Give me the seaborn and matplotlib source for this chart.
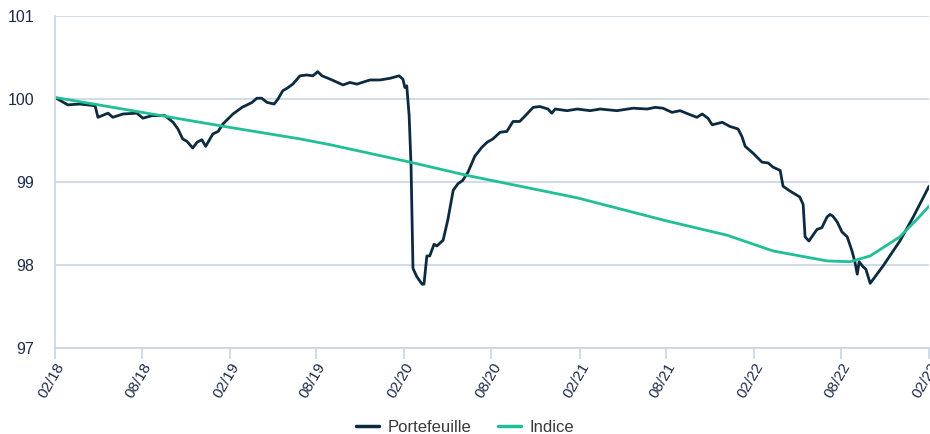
import pandas as pd
import seaborn as sns
import matplotlib.pyplot as plt
import matplotlib.dates as mdates

# Values
ptf_dates = ['2018-02-01', '2018-02-28', '2018-03-25', '2018-04-26', '2018-05-02', '2018-05-23',
             '2018-06-02', '2018-06-23', '2018-07-22', '2018-08-04', '2018-08-23', '2018-09-19',
             '2018-10-06', '2018-10-16', '2018-10-26', '2018-11-04', '2018-11-16', '2018-11-25',
             '2018-12-05', '2018-12-13', '2018-12-28', '2019-01-08', '2019-01-18', '2019-02-08',
             '2019-02-27', '2019-03-20', '2019-03-30', '2019-04-09', '2019-04-20', '2019-05-05',
             '2019-05-13', '2019-05-23', '2019-06-01', '2019-06-13', '2019-06-28', '2019-07-12',
             '2019-07-25', '2019-08-04', '2019-08-13', '2019-08-30', '2019-09-26', '2019-10-10',
             '2019-10-25', '2019-11-21', '2019-12-12', '2020-01-02', '2020-01-21', '2020-01-29',
             '2020-02-02', '2020-02-06', '2020-02-11', '2020-02-15', '2020-02-19', '2020-02-27',
             '2020-03-09', '2020-03-13', '2020-03-19', '2020-03-25', '2020-04-03', '2020-04-09',
             '2020-04-22', '2020-05-02', '2020-05-13', '2020-05-23', '2020-06-02', '2020-06-13',
             '2020-06-27', '2020-07-12', '2020-07-23', '2020-08-04', '2020-08-19', '2020-09-02',
             '2020-09-15', '2020-09-29', '2020-10-14', '2020-10-27', '2020-11-10', '2020-11-27',
             '2020-12-05', '2020-12-12', '2021-01-06', '2021-01-27', '2021-02-23', '2021-03-16',
             '2021-04-20', '2021-05-24', '2021-06-22', '2021-07-09', '2021-07-25', '2021-08-13',
             '2021-08-30', '2021-09-16', '2021-10-04', '2021-10-15', '2021-10-27', '2021-11-05',
             '2021-11-26', '2021-12-12', '2021-12-29', '2022-01-06', '2022-01-13', '2022-01-29',
             '2022-02-17', '2022-03-02', '2022-03-12', '2022-03-27', '2022-04-02', '2022-04-17',
             '2022-05-07', '2022-05-14', '2022-05-18', '2022-05-26', '2022-06-12', '2022-06-22',
             '2022-07-03', '2022-07-09', '2022-07-15', '2022-07-24', '2022-08-03', '2022-08-14',
             '2022-08-24', '2022-08-30', '2022-09-04', '2022-09-08', '2022-09-16', '2022-09-22',
             '2022-10-01', '2022-10-28', '2022-12-02', '2022-12-30', '2023-02-01']
ptf_values = [100.02, 99.93, 99.94, 99.92, 99.78, 99.83,
              99.78, 99.82, 99.83, 99.77, 99.80, 99.80,
              99.72, 99.64, 99.52, 99.49, 99.41, 99.48,
              99.51, 99.43, 99.58, 99.61, 99.70, 99.82,
              99.90, 99.96, 100.01, 100.01, 99.96, 99.94,
              100.00, 100.10, 100.13, 100.18, 100.28, 100.29,
              100.28, 100.33, 100.28, 100.24, 100.17, 100.20,
              100.18, 100.23, 100.23, 100.25, 100.28, 100.24,
              100.14, 100.16, 99.80, 99.19, 97.96, 97.86,
              97.77, 97.77, 98.11, 98.11, 98.25, 98.23,
              98.30, 98.55, 98.90, 98.98, 99.02, 99.12,
              99.31, 99.42, 99.48, 99.52, 99.60, 99.61,
              99.73, 99.73, 99.82, 99.90, 99.91, 99.88,
              99.83, 99.88, 99.86, 99.88, 99.86, 99.88,
              99.86, 99.89, 99.88, 99.90, 99.89, 99.84,
              99.86, 99.82, 99.78, 99.82, 99.77, 99.69,
              99.72, 99.67, 99.64, 99.55, 99.43, 99.35,
              99.24, 99.23, 99.18, 99.14, 98.95, 98.89,
              98.82, 98.73, 98.34, 98.29, 98.43, 98.45,
              98.58, 98.61, 98.59, 98.52, 98.40, 98.34,
              98.17, 98.04, 97.89, 98.04, 97.98, 97.95,
              97.78, 97.99, 98.29, 98.58, 98.95]

idx_dates = ['2018-02-01', '2018-08-02', '2019-01-31', '2019-06-28', '2019-08-30', '2020-02-13',
             '2020-06-11', '2021-01-27', '2021-08-03', '2021-12-06', '2022-03-12', '2022-07-03',
             '2022-08-20', '2022-10-01', '2022-12-02', '2023-01-13', '2023-02-01']
idx_values = [100.02, 99.84, 99.66, 99.52, 99.45, 99.24,
              99.08, 98.81, 98.53, 98.36, 98.17, 98.05,
              98.04, 98.11, 98.34, 98.59, 98.71]

tick_dates = ['2018-02-01', '2018-08-01', '2019-02-01', '2019-08-01', '2020-02-01', '2020-08-01',
              '2021-02-01', '2021-08-01', '2022-02-01', '2022-08-01', '2023-02-01']

df = pd.concat([
    pd.DataFrame({'date': pd.to_datetime(ptf_dates), 'value': ptf_values, 'serie': 'Portefeuille'}),
    pd.DataFrame({'date': pd.to_datetime(idx_dates), 'value': idx_values, 'serie': 'Indice'}),
])

sns.set_style('white')
plt.rcParams['font.family'] = ['Liberation Sans', 'DejaVu Sans']

grid_col = '#c9d5e4'
text_col = '#1c2b4a'

fig = plt.figure(figsize=(9.3, 4.34), dpi=100)
ax = fig.add_axes([0.059, 0.198, 0.940, 0.765])

sns.lineplot(data=df, x='date', y='value', hue='serie',
             palette={'Portefeuille': '#0c2a40', 'Indice': '#20bf97'},
             linewidth=2.0, ax=ax, legend=False)

ax.set_ylim(97, 101)
ax.set_yticks([97, 98, 99, 100, 101])
ax.set_xlim(pd.Timestamp('2018-02-01'), pd.Timestamp('2023-02-01'))
ax.set_xticks(pd.to_datetime(tick_dates))
ax.xaxis.set_major_formatter(mdates.DateFormatter('%m/%y'))
ax.set_xlabel('')
ax.set_ylabel('')

ax.grid(axis='y', color=grid_col, linewidth=1.2)
ax.set_axisbelow(True)
for s in ['top', 'right']:
    ax.spines[s].set_visible(False)
for s in ['left', 'bottom']:
    ax.spines[s].set_color(grid_col)
    ax.spines[s].set_linewidth(1.2)

ax.tick_params(axis='y', length=0, pad=15, labelsize=11.5, labelcolor=text_col)
ax.tick_params(axis='x', length=8, width=1.2, color=grid_col, pad=1,
               labelsize=11, labelcolor=text_col, bottom=True)
for lbl in ax.get_xticklabels():
    lbl.set_rotation(60)
    lbl.set_ha('right')
    lbl.set_rotation_mode('anchor')

handles = [plt.Line2D([], [], color='#0c2a40', linewidth=2.5),
           plt.Line2D([], [], color='#20bf97', linewidth=2.5)]
fig.legend(handles, ['Portefeuille', 'Indice'], loc='center', bbox_to_anchor=(0.5, 0.015),
           ncol=2, frameon=False, fontsize=12, labelcolor='#3a3a3a',
           handlelength=1.4, handletextpad=0.5, columnspacing=1.6)

plt.savefig('out.png', dpi=100)
plt.close()
